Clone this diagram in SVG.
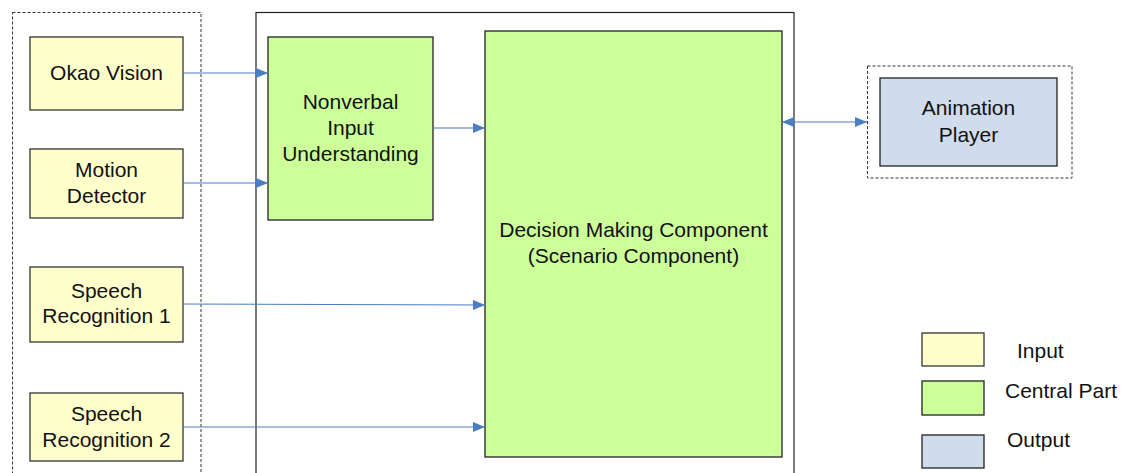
<svg xmlns="http://www.w3.org/2000/svg" width="1128" height="473" viewBox="0 0 1128 473">
<style>
text{font-family:"Liberation Sans",Arial,sans-serif;font-size:21px;fill:#111;text-anchor:middle}
.in{fill:#FFFFCC;stroke:#333;stroke-width:1.3}
.cen{fill:#CCFF99;stroke:#222;stroke-width:1.3}
.out{fill:#D0DBEC;stroke:#222;stroke-width:1.3}
.dash{fill:none;stroke:#333;stroke-width:1;stroke-dasharray:3,2}
.frame{fill:none;stroke:#222;stroke-width:1.2}
.conn{stroke:#4A7EC0;stroke-width:1.2;fill:none}
.leg{text-anchor:start}
</style>
<defs>
<marker id="ah" viewBox="0 0 12 10" refX="12" refY="5" markerWidth="12" markerHeight="10" markerUnits="userSpaceOnUse" orient="auto">
<path d="M0,0 L12,5 L0,10 Z" fill="#4A7EC0"/>
</marker>
<marker id="as" viewBox="0 0 12 10" refX="12" refY="5" markerWidth="12" markerHeight="10" markerUnits="userSpaceOnUse" orient="auto-start-reverse">
<path d="M0,0 L12,5 L0,10 Z" fill="#4A7EC0"/>
</marker>
</defs>
<g id="input-group"><rect class="dash" x="12.5" y="12.5" width="188.5" height="470"/></g>
<g id="central-frame"><rect class="frame" x="256" y="12.5" width="538" height="470"/></g>
<g id="output-group"><rect class="dash" x="867.5" y="66" width="204.5" height="112"/></g>

<g id="okao"><rect class="in" x="30" y="37" width="153" height="73"/><text x="106.5" y="80">Okao Vision</text></g>
<g id="motion"><rect class="in" x="30" y="149" width="153" height="69"/><text x="106.5" y="177">Motion</text><text x="106.5" y="203">Detector</text></g>
<g id="speech1"><rect class="in" x="30" y="267" width="153" height="75"/><text x="106.5" y="298">Speech</text><text x="106.5" y="323">Recognition 1</text></g>
<g id="speech2"><rect class="in" x="30" y="393" width="153" height="68"/><text x="106.5" y="421">Speech</text><text x="106.5" y="447">Recognition 2</text></g>
<g id="nonverbal"><rect class="cen" x="268" y="37" width="165" height="183"/><text x="350.5" y="109">Nonverbal</text><text x="350.5" y="135">Input</text><text x="350.5" y="161">Understanding</text></g>
<g id="decision"><rect class="cen" x="485" y="31" width="297" height="426"/><text x="633.5" y="237">Decision Making Component</text><text x="633.5" y="263">(Scenario Component)</text></g>
<g id="animation"><rect class="out" x="880" y="78" width="177" height="88"/><text x="968.5" y="115">Animation</text><text x="968.5" y="142">Player</text></g>

<g id="connectors">
<line class="conn" x1="183" y1="73" x2="268" y2="73" marker-end="url(#ah)"/>
<line class="conn" x1="183" y1="183" x2="268" y2="183" marker-end="url(#ah)"/>
<line class="conn" x1="433" y1="128" x2="485" y2="128" marker-end="url(#ah)"/>
<line class="conn" x1="183" y1="304" x2="485" y2="305" marker-end="url(#ah)"/>
<line class="conn" x1="183" y1="427" x2="485" y2="427" marker-end="url(#ah)"/>
<line class="conn" x1="782" y1="122" x2="867" y2="122" marker-start="url(#as)" marker-end="url(#ah)"/>
</g>

<g id="legend">
<rect class="in" x="922" y="333" width="62" height="33"/><text class="leg" x="1017" y="358">Input</text>
<rect class="cen" x="922" y="381" width="62" height="34"/><text class="leg" x="1005" y="398">Central Part</text>
<rect class="out" x="922" y="435" width="62" height="33"/><text class="leg" x="1007" y="447">Output</text>
</g>
</svg>
